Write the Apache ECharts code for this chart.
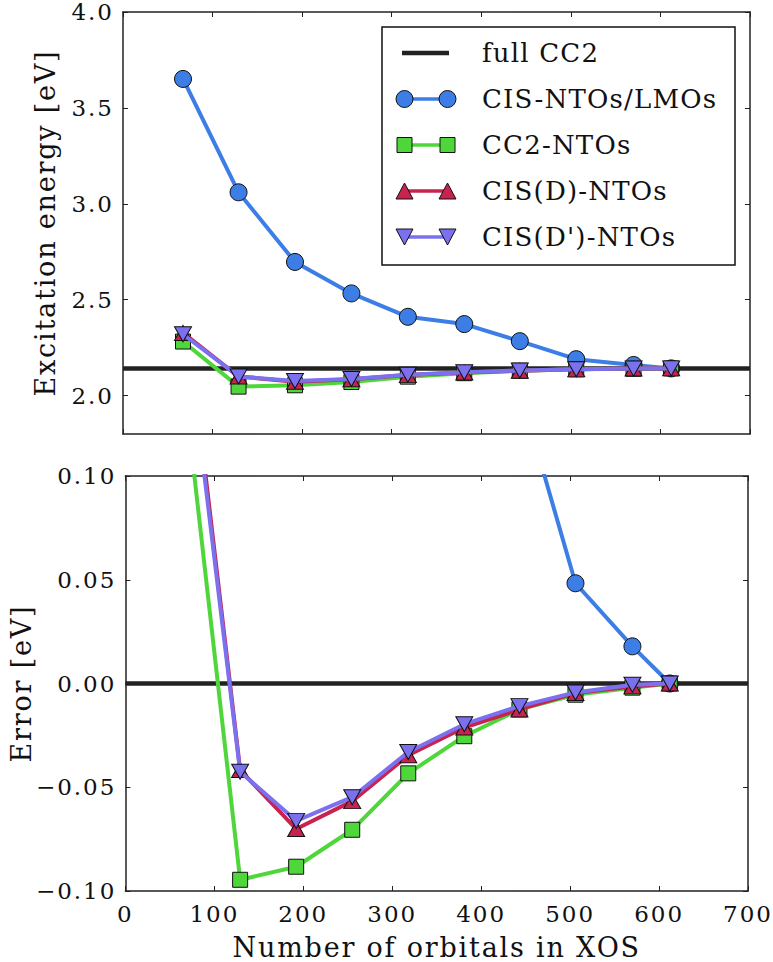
<!DOCTYPE html>
<html>
<head>
<meta charset="utf-8">
<script src="https://cdn.jsdelivr.net/npm/echarts@6/dist/echarts.min.js"></script>
<style>
html,body{margin:0;padding:0;background:#fff;}
#chart{width:773px;height:962px;}
#chart text{letter-spacing:1.5px;}
#chart text[style*="23px"]{letter-spacing:2px;}
#chart text[style*="27px"]{letter-spacing:1.8px;}
#chart text[style*="26px"]{letter-spacing:1.2px;}
</style>
</head>
<body>
<div id="chart"></div>
<script>
// ---------------- data ----------------
var orbitals = [67, 129, 192, 255, 318, 381, 443, 506, 570, 612];
var fullCC2Energy = 2.142;
var fullCC2Error = 0.0;
// excitation energies [eV]
var cisEnergy   = [3.651, 3.060, 2.697, 2.533, 2.411, 2.373, 2.284, 2.190, 2.160, 2.142];
var cc2Energy   = [2.282, 2.047, 2.054, 2.071, 2.099, 2.117, 2.130, 2.137, 2.140, 2.142];
var cisdEnergy  = [2.327, 2.100, 2.072, 2.085, 2.107, 2.121, 2.130, 2.137, 2.141, 2.142];
var cisdpEnergy = [2.320, 2.100, 2.076, 2.087, 2.109, 2.122, 2.131, 2.138, 2.141, 2.142];
// errors [eV]
var cisError   = [1.509, 0.918, 0.555, 0.391, 0.269, 0.231, 0.142, 0.0483, 0.0179, 0.0];
var cc2Error   = [0.140, -0.0946, -0.0883, -0.0705, -0.0433, -0.0254, -0.0125, -0.0054, -0.0020, 0.0];
var cisdError  = [0.185, -0.0417, -0.0701, -0.0567, -0.0346, -0.0212, -0.0125, -0.0046, -0.0014, 0.0];
var cisdpError = [0.178, -0.0425, -0.0662, -0.0548, -0.0330, -0.0196, -0.0109, -0.0043, -0.0006, 0.0];
// axes
var xRange = [0, 700];
var xStep = 100;
var energyRange = [1.8, 4.0];
var energyTicks = [2.0, 2.5, 3.0, 3.5, 4.0];
var errorRange = [-0.10, 0.10];
var errorTicks = [-0.10, -0.05, 0.00, 0.05, 0.10];
var names = ['full CC2', 'CIS-NTOs/LMOs', 'CC2-NTOs', 'CIS(D)-NTOs', "CIS(D')-NTOs"];
var xTitle = 'Number of orbitals in XOS';
var yTitleTop = 'Excitation energy [eV]';
var yTitleBottom = 'Error [eV]';

// ---------------- styles ----------------
var FONT = 'DejaVu Serif';
var INK = '#222';
var TICK_FS = 23, NAME_FS = 27, LEGEND_FS = 26;
var colors = {
  ref: '#222222',
  cis: '#3d7ee6',
  cc2: '#4ed63a',
  cisd: '#c8234e',
  cisdp: '#7b70ee'
};

function pairs(xs, ys) {
  var out = [];
  for (var i = 0; i < xs.length; i++) out.push([xs[i], ys[i]]);
  return out;
}

function fmtErr(v) {
  var s = Math.abs(v).toFixed(2);
  return (v < -1e-9 ? '\u2212' : '') + s;
}

function xAxes(gridIndex, withLabels) {
  var base = {
    type: 'value', gridIndex: gridIndex, min: xRange[0], max: xRange[1], interval: xStep,
    axisLine: {show: true, onZero: false, lineStyle: {color: INK, width: 1.5}},
    axisTick: {show: true, inside: true, length: 5, lineStyle: {color: INK, width: 1}},
    splitLine: {show: false}
  };
  var bottom = Object.assign({}, base, {
    position: 'bottom',
    axisLabel: {show: withLabels, color: '#111', fontFamily: FONT, fontSize: TICK_FS, margin: 11}
  });
  if (withLabels) {
    bottom.name = xTitle;
    bottom.nameLocation = 'middle';
    bottom.nameGap = 43;
    bottom.nameTextStyle = {color: '#111', fontFamily: FONT, fontSize: NAME_FS};
  }
  var top = Object.assign({}, base, {position: 'top', axisLabel: {show: false}});
  return [bottom, top];
}

function yAxes(gridIndex, range, ticks, fmt, title) {
  var base = {
    type: 'value', gridIndex: gridIndex, min: range[0], max: range[1],
    axisLine: {show: true, onZero: false, lineStyle: {color: INK, width: 1.5}},
    axisTick: {show: true, inside: true, length: 5, customValues: ticks, lineStyle: {color: INK, width: 1}},
    splitLine: {show: false}
  };
  var left = Object.assign({}, base, {
    position: 'left',
    name: title, nameLocation: 'middle', nameGap: 64, nameRotate: 90,
    nameTextStyle: {color: '#111', fontFamily: FONT, fontSize: NAME_FS},
    axisLabel: {show: true, customValues: ticks, formatter: fmt, color: '#111', fontFamily: FONT, fontSize: TICK_FS, margin: 9}
  });
  var right = Object.assign({}, base, {position: 'right', axisLabel: {show: false}});
  return [left, right];
}

function lineSeries(name, xi, yi, data, color, symbol, size, rotate, z) {
  return {
    type: 'line', name: name, xAxisIndex: xi, yAxisIndex: yi,
    data: data, symbol: symbol, symbolSize: size, symbolRotate: rotate || 0,
    showSymbol: true, clip: true, z: z, animation: false,
    lineStyle: {color: color, width: 4},
    itemStyle: {color: color, borderColor: '#111', borderWidth: 1},
    emphasis: {disabled: true}
  };
}

function refSeries(xi, yi, value) {
  return {
    type: 'line', name: names[0], xAxisIndex: xi, yAxisIndex: yi,
    data: [[xRange[0], value], [xRange[1], value]], symbol: 'none', clip: true, z: 1, animation: false,
    lineStyle: {color: colors.ref, width: 4.5},
    itemStyle: {color: colors.ref},
    emphasis: {disabled: true}
  };
}

function panelSeries(xi, yi, refVal, cis, cc2, cisd, cisdp) {
  return [
    refSeries(xi, yi, refVal),
    lineSeries(names[1], xi, yi, pairs(orbitals, cis), colors.cis, 'circle', 17, 0, 2),
    lineSeries(names[2], xi, yi, pairs(orbitals, cc2), colors.cc2, 'rect', 15, 0, 3),
    lineSeries(names[3], xi, yi, pairs(orbitals, cisd), colors.cisd, 'triangle', [17, 15], 0, 4),
    lineSeries(names[4], xi, yi, pairs(orbitals, cisdp), colors.cisdp, 'triangle', [17, 15], 180, 5)
  ];
}

// ---------- legend icons (two stacked legends: lines, then markers) ----------
var IW = 61, IH = 18;
var BOUNDS = 'M0,0L0,0M' + IW + ',' + IH + 'L' + IW + ',' + IH;
function barPath(x0, x1, h) {
  var y0 = IH / 2 - h / 2, y1 = IH / 2 + h / 2;
  return 'path://' + BOUNDS + 'M' + x0 + ',' + y0 + 'L' + x1 + ',' + y0 + 'L' + x1 + ',' + y1 + 'L' + x0 + ',' + y1 + 'Z';
}
function circ(cx, cy, r) {
  return 'M' + (cx - r) + ',' + cy + 'A' + r + ',' + r + ' 0 1 1 ' + (cx + r) + ',' + cy +
         'A' + r + ',' + r + ' 0 1 1 ' + (cx - r) + ',' + cy + 'Z';
}
function sq(cx, cy, s) {
  var a = s / 2;
  return 'M' + (cx - a) + ',' + (cy - a) + 'L' + (cx + a) + ',' + (cy - a) + 'L' + (cx + a) + ',' + (cy + a) + 'L' + (cx - a) + ',' + (cy + a) + 'Z';
}
function triUp(cx, cy, w, h) {
  return 'M' + cx + ',' + (cy - h / 2) + 'L' + (cx + w / 2) + ',' + (cy + h / 2) + 'L' + (cx - w / 2) + ',' + (cy + h / 2) + 'Z';
}
function triDown(cx, cy, w, h) {
  return 'M' + (cx - w / 2) + ',' + (cy - h / 2) + 'L' + (cx + w / 2) + ',' + (cy - h / 2) + 'L' + cx + ',' + (cy + h / 2) + 'Z';
}
var cL = 9, cR = IW - 9, cY = IH / 2;
var markerIcons = [
  'none',
  'path://' + BOUNDS + circ(cL, cY, 8.5) + circ(cR, cY, 8.5),
  'path://' + BOUNDS + sq(cL, cY, 15) + sq(cR, cY, 15),
  'path://' + BOUNDS + triUp(cL, cY, 17, 16) + triUp(cR, cY, 17, 16),
  'path://' + BOUNDS + triDown(cL, cY, 17, 16) + triDown(cR, cY, 17, 16)
];
var seriesColors = [colors.ref, colors.cis, colors.cc2, colors.cisd, colors.cisdp];

var legendCommon = {
  orient: 'vertical', left: 382, top: 27,
  padding: [3, 18, 5, 13], itemGap: 0,
  itemWidth: IW, itemHeight: IH,
  selectedMode: false,
  textStyle: {fontFamily: FONT, fontSize: LEGEND_FS, lineHeight: 46, color: '#111',
              padding: [0, 0, 0, 21], width: 235, overflow: 'truncate'}
};
var legendLines = Object.assign({}, legendCommon, {
  z: 10,
  backgroundColor: '#fff', borderColor: '#111', borderWidth: 1.5, borderRadius: 0,
  data: names.map(function (n, i) {
    return {name: n,
            icon: i === 0 ? barPath(7, 54, 4.5) : barPath(cL, cR, 3.5),
            itemStyle: {color: seriesColors[i], borderWidth: 0}};
  })
});
var legendMarks = Object.assign({}, legendCommon, {
  z: 11,
  backgroundColor: 'transparent', borderWidth: 0,
  textStyle: Object.assign({}, legendCommon.textStyle, {color: 'rgba(0,0,0,0)'}),
  data: names.map(function (n, i) {
    return {name: n, icon: markerIcons[i],
            itemStyle: {color: seriesColors[i], borderColor: '#111', borderWidth: 1}};
  })
});

var chart = echarts.init(document.getElementById('chart'), null, {renderer: 'svg'});
var topX = xAxes(0, false), botX = xAxes(1, true);
var topY = yAxes(0, energyRange, energyTicks, function (v) { return v.toFixed(1); }, yTitleTop);
var botY = yAxes(1, errorRange, errorTicks, fmtErr, yTitleBottom);

chart.setOption({
  animation: false,
  backgroundColor: '#fff',
  grid: [
    {left: 123, right: 23, top: 12, height: 422, containLabel: false},
    {left: 123, right: 23, top: 476, height: 422, containLabel: false}
  ],
  legend: [legendLines, legendMarks],
  xAxis: [topX[0], topX[1], botX[0], botX[1]],
  yAxis: [topY[0], topY[1], botY[0], botY[1]],
  series: [].concat(
    panelSeries(0, 0, fullCC2Energy, cisEnergy, cc2Energy, cisdEnergy, cisdpEnergy),
    panelSeries(2, 2, fullCC2Error, cisError, cc2Error, cisdError, cisdpError)
  )
});
</script>
</body>
</html>
